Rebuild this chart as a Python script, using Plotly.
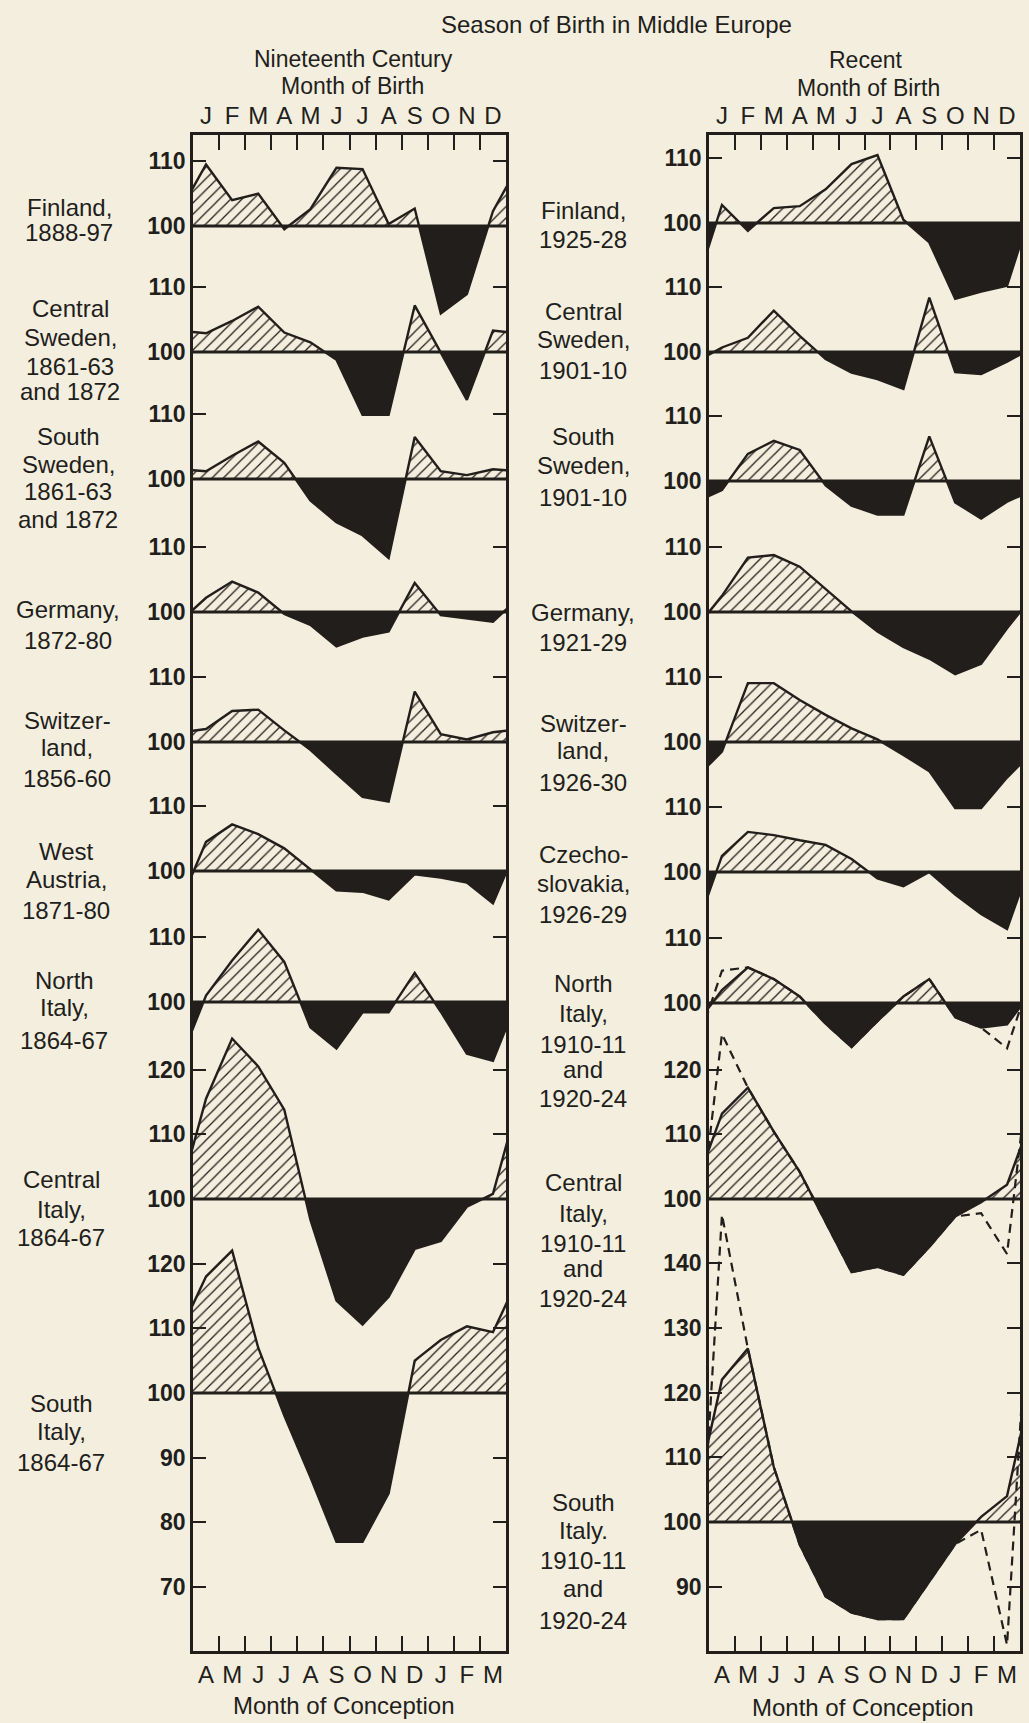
import plotly.graph_objects as go

# ---------------- data ----------------
MONTH_POS = [0.5 + i for i in range(12)]
BIRTH_MONTHS = ["J", "F", "M", "A", "M", "J", "J", "A", "S", "O", "N", "D"]
CONCEPTION_MONTHS = ["A", "M", "J", "J", "A", "S", "O", "N", "D", "J", "F", "M"]

# Nineteenth century, index (100 = average) by month of birth Jan..Dec
finland_1888_97 = [109.5, 104.0, 105.0, 99.5, 102.6, 109.0, 108.8, 100.3, 102.7, 86.5, 89.5, 102.3]
c_sweden_1861_72 = [102.9, 104.8, 107.0, 103.0, 101.5, 98.8, 90.3, 90.3, 107.2, 99.9, 92.6, 103.3]
s_sweden_1861_72 = [101.2, 103.6, 105.8, 102.5, 96.7, 93.3, 91.3, 87.8, 106.5, 101.2, 100.6, 101.5]
germany_1872_80 = [102.2, 104.7, 103.0, 99.7, 98.0, 94.7, 96.2, 97.0, 104.5, 99.5, 99.0, 98.5]
switzerland_1856_60 = [102.0, 104.8, 105.0, 101.8, 98.8, 95.1, 91.5, 90.8, 107.8, 101.2, 100.4, 101.5]
w_austria_1871_80 = [104.5, 107.2, 105.7, 103.5, 100.2, 97.0, 96.8, 95.6, 99.5, 99.0, 98.2, 95.0]
n_italy_1864_67 = [101.0, 106.4, 111.2, 106.2, 96.1, 92.8, 98.4, 98.4, 104.5, 98.5, 92.0, 90.9]
c_italy_1864_67 = [115.5, 124.8, 120.5, 113.8, 96.8, 84.3, 80.6, 84.9, 92.3, 93.5, 98.8, 100.8]
s_italy_1864_67 = [118.0, 122.0, 107.0, 96.5, 87.0, 77.0, 77.0, 84.5, 105.0, 108.2, 110.3, 109.4]

# Recent period
finland_1925_28 = [102.8, 98.8, 102.3, 102.6, 105.2, 109.1, 110.5, 100.5, 97.0, 88.3, 89.4, 90.3]
c_sweden_1901_10 = [100.7, 102.2, 106.4, 102.5, 98.9, 96.8, 95.8, 94.3, 108.4, 96.9, 96.6, 98.5]
s_sweden_1901_10 = [98.6, 104.2, 106.2, 104.8, 99.3, 96.2, 94.8, 94.8, 106.9, 96.7, 94.2, 96.8]
germany_1921_29 = [102.5, 108.4, 108.8, 107.0, 103.5, 100.1, 97.0, 94.6, 92.8, 90.4, 92.0, 97.5]
switzerland_1926_30 = [98.5, 109.1, 109.1, 106.5, 104.2, 102.1, 100.4, 98.0, 95.5, 89.8, 89.8, 94.5]
czechoslovakia_1926_29 = [102.5, 106.2, 105.7, 104.9, 104.2, 102.0, 99.0, 97.8, 100.0, 96.5, 93.5, 91.2]
n_italy_recent = [102.0, 105.5, 103.7, 101.0, 96.8, 93.2, 97.2, 101.0, 103.7, 97.8, 96.2, 96.7]
n_italy_recent_dashed = [105.0, 105.5, 103.7, 101.0, 96.8, 93.2, 97.2, 101.0, 103.7, 97.8, 96.2, 93.0]
c_italy_recent = [113.2, 117.2, 110.4, 104.2, 96.5, 88.7, 89.5, 88.3, 92.6, 97.3, 99.5, 102.2]
c_italy_recent_dashed = [125.5, 117.2, 110.4, 104.2, 96.5, 88.7, 89.5, 88.3, 92.6, 97.3, 97.8, 91.5]
s_italy_recent = [122.0, 126.8, 108.5, 96.5, 88.5, 86.0, 85.0, 85.0, 90.8, 96.6, 100.8, 104.0]
s_italy_recent_dashed = [147.5, 126.8, 108.5, 96.5, 88.5, 86.0, 85.0, 85.0, 90.8, 96.6, 98.8, 81.0]

LEFT_LABELS = [["Finland,", "1888-97"], ["Central", "Sweden,", "1861-63", "and 1872"],
               ["South", "Sweden,", "1861-63", "and 1872"], ["Germany,", "1872-80"],
               ["Switzer-", "land,", "1856-60"], ["West", "Austria,", "1871-80"],
               ["North", "Italy,", "1864-67"], ["Central", "Italy,", "1864-67"],
               ["South", "Italy,", "1864-67"]]
LEFT_SERIES = [finland_1888_97, c_sweden_1861_72, s_sweden_1861_72, germany_1872_80,
               switzerland_1856_60, w_austria_1871_80, n_italy_1864_67, c_italy_1864_67,
               s_italy_1864_67]
LEFT_DASHED = [None] * 9
LEFT_TICKS = [[110, 100]] * 7 + [[120, 110, 100], [120, 110, 100, 90, 80, 70]]

RIGHT_LABELS = [["Finland,", "1925-28"], ["Central", "Sweden,", "1901-10"],
                ["South", "Sweden,", "1901-10"], ["Germany,", "1921-29"],
                ["Switzer-", "land,", "1926-30"], ["Czecho-", "slovakia,", "1926-29"],
                ["North", "Italy,", "1910-11", "and", "1920-24"],
                ["Central", "Italy,", "1910-11", "and", "1920-24"],
                ["South", "Italy.", "1910-11", "and", "1920-24"]]
RIGHT_SERIES = [finland_1925_28, c_sweden_1901_10, s_sweden_1901_10, germany_1921_29,
                switzerland_1926_30, czechoslovakia_1926_29, n_italy_recent, c_italy_recent,
                s_italy_recent]
RIGHT_DASHED = [None] * 6 + [n_italy_recent_dashed, c_italy_recent_dashed, s_italy_recent_dashed]
RIGHT_TICKS = [[110, 100]] * 7 + [[120, 110, 100], [140, 130, 120, 110, 100, 90]]

# ---------------- layout geometry (pixels) ----------------
W, H = 1029, 1723
TOP, BOT = 135, 1651
S = 6.47  # pixels per index point
LEFT_X = (193, 506)
RIGHT_X = (709, 1020)
LEFT_BASE_PX = [226, 352, 479, 612, 742, 871, 1002, 1199, 1393]
RIGHT_BASE_PX = [223, 352, 481, 612, 742, 872, 1003, 1199, 1522]
LEFT_LABEL_X = [69, 70, 68, 68, 67, 66, 64, 61, 61]
LEFT_LABEL_Y = [[207, 233], [308, 337, 366, 392], [437, 464, 491, 519], [610, 640],
                [720, 747, 778], [851, 880, 911], [980, 1008, 1040], [1179, 1209, 1237],
                [1403, 1431, 1462]]
RIGHT_LABEL_X = 583
RIGHT_LABEL_Y = [[210, 240], [312, 339, 370], [437, 466, 497], [612, 642],
                 [723, 750, 782], [854, 883, 915], [984, 1013, 1044, 1069, 1098],
                 [1182, 1213, 1243, 1268, 1298], [1502, 1530, 1560, 1588, 1620]]

BG = "#f4eede"
INK = "#221e1b"
FONT = "Liberation Sans, Arial, sans-serif"
YMIN = -(BOT - TOP) / S


def base_y(px):
    return -(px - TOP) / S


def with_crossings(xs, ys, base=100.0):
    px, py = [xs[0]], [ys[0]]
    for i in range(1, len(xs)):
        x0, y0, x1, y1 = xs[i - 1], ys[i - 1], xs[i], ys[i]
        if (y0 - base) * (y1 - base) < 0:
            t = (base - y0) / (y1 - y0)
            px.append(x0 + t * (x1 - x0))
            py.append(base)
        px.append(x1)
        py.append(y1)
    return px, py


def wrap(vals):
    return [-0.5] + MONTH_POS + [12.5], [vals[-1]] + list(vals) + [vals[0]]


fig = go.Figure()


def add_panel(vals, dashed, bpx, xa, ya):
    b = base_y(bpx)
    off = b - 100
    xs, ys = wrap(vals)
    px, py = with_crossings(xs, ys)
    poly_x = px + [px[-1], px[0]]
    pos = [max(v, 100) + off for v in py] + [b, b]
    neg = [min(v, 100) + off for v in py] + [b, b]
    common = dict(xaxis=xa, yaxis=ya, hoverinfo="skip", showlegend=False)
    fig.add_trace(go.Scatter(x=poly_x, y=pos, fill="toself", mode="none", fillcolor=BG,
                             fillpattern=dict(shape="/", fgcolor=INK, bgcolor=BG, size=8,
                                              solidity=0.16, fillmode="replace"), **common))
    fig.add_trace(go.Scatter(x=poly_x, y=neg, fill="toself", mode="none", fillcolor=INK, **common))
    if dashed is not None:
        dx, dy = wrap(dashed)
        fig.add_trace(go.Scatter(x=dx, y=[v + off for v in dy], mode="lines",
                                 line=dict(color=INK, width=2.2, dash="9px,6px"), **common))
    fig.add_trace(go.Scatter(x=xs, y=[v + off for v in ys], mode="lines",
                             line=dict(color=INK, width=2.4), **common))
    fig.add_trace(go.Scatter(x=[-0.5, 12.5], y=[b, b], mode="lines",
                             line=dict(color=INK, width=3), **common))


for vals, dashed, bpx in zip(LEFT_SERIES, LEFT_DASHED, LEFT_BASE_PX):
    add_panel(vals, dashed, bpx, "x", "y")
for vals, dashed, bpx in zip(RIGHT_SERIES, RIGHT_DASHED, RIGHT_BASE_PX):
    add_panel(vals, dashed, bpx, "x2", "y2")

# invisible anchors for the top (birth-month) axes
for xa, ya in (("x3", "y"), ("x4", "y2")):
    fig.add_trace(go.Scatter(x=[6], y=[YMIN / 2], mode="markers", marker=dict(opacity=0),
                             xaxis=xa, yaxis=ya, hoverinfo="skip", showlegend=False))


def ytick_arrays(base_px_list, tick_lists):
    vals, texts = [], []
    for bpx, ticks in zip(base_px_list, tick_lists):
        b = base_y(bpx)
        for t in ticks:
            vals.append(b + (t - 100))
            texts.append(str(t))
    return vals, texts


ydom = [1 - BOT / H, 1 - TOP / H]
lv, lt = ytick_arrays(LEFT_BASE_PX, LEFT_TICKS)
rv, rt = ytick_arrays(RIGHT_BASE_PX, RIGHT_TICKS)

xcommon = dict(range=[0, 12], showgrid=False, zeroline=False, tickmode="array",
               tickvals=MONTH_POS, ticks="outside", ticklen=0, tickcolor="rgba(0,0,0,0)",
               tickfont=dict(size=24, color=INK, family=FONT),
               minor=dict(tickmode="array", tickvals=list(range(1, 12)), ticks="inside",
                          ticklen=15, tickwidth=2, tickcolor=INK, showgrid=False))
ycommon = dict(range=[YMIN, 0], showgrid=False, zeroline=False, tickmode="array",
               ticks="inside", ticklen=13, tickwidth=2.4, tickcolor=INK, mirror="ticks",
               showline=True, linewidth=2.8, linecolor=INK,
               tickfont=dict(size=23, color=INK, family=FONT, weight="bold"))

fig.update_layout(
    width=W, height=H, margin=dict(l=0, r=0, t=0, b=0),
    paper_bgcolor=BG, plot_bgcolor=BG, showlegend=False,
    font=dict(family=FONT, color=INK, size=24),
    xaxis=dict(domain=[LEFT_X[0] / W, LEFT_X[1] / W], anchor="y", side="bottom",
               ticktext=CONCEPTION_MONTHS, showline=True, mirror=True, linewidth=2.8,
               linecolor=INK, **xcommon),
    xaxis2=dict(domain=[RIGHT_X[0] / W, RIGHT_X[1] / W], anchor="y2", side="bottom",
                ticktext=CONCEPTION_MONTHS, showline=True, mirror=True, linewidth=2.8,
                linecolor=INK, **xcommon),
    xaxis3=dict(overlaying="x", anchor="y", side="top", ticktext=BIRTH_MONTHS,
                showline=False, **xcommon),
    xaxis4=dict(overlaying="x2", anchor="y2", side="top", ticktext=BIRTH_MONTHS,
                showline=False, **xcommon),
    yaxis=dict(domain=ydom, anchor="x", tickvals=lv, ticktext=lt, **ycommon),
    yaxis2=dict(domain=ydom, anchor="x2", tickvals=rv, ticktext=rt, **ycommon),
)

anns = []


def note(text, xpx, ypx, size=24):
    anns.append(dict(text=text, x=xpx / W, y=1 - ypx / H, xref="paper", yref="paper",
                     xanchor="center", yanchor="middle", showarrow=False,
                     font=dict(size=size, color=INK, family=FONT)))


note("Season of Birth in Middle Europe", 616, 24, 24)
note("Nineteenth Century", 353, 59, 23)
note("Month of Birth", 352, 86, 23)
note("Recent", 865, 60, 23)
note("Month of Birth", 868, 88, 23)
note("Month of Conception", 343, 1705, 24)
note("Month of Conception", 862, 1707, 24)

for lines, xs_, ys_ in zip(LEFT_LABELS, LEFT_LABEL_X, LEFT_LABEL_Y):
    for t, y in zip(lines, ys_):
        note(t, xs_, y, 24)
for lines, ys_ in zip(RIGHT_LABELS, RIGHT_LABEL_Y):
    for t, y in zip(lines, ys_):
        note(t, RIGHT_LABEL_X, y, 24)

fig.update_layout(annotations=anns)
fig.write_html("out.html")
